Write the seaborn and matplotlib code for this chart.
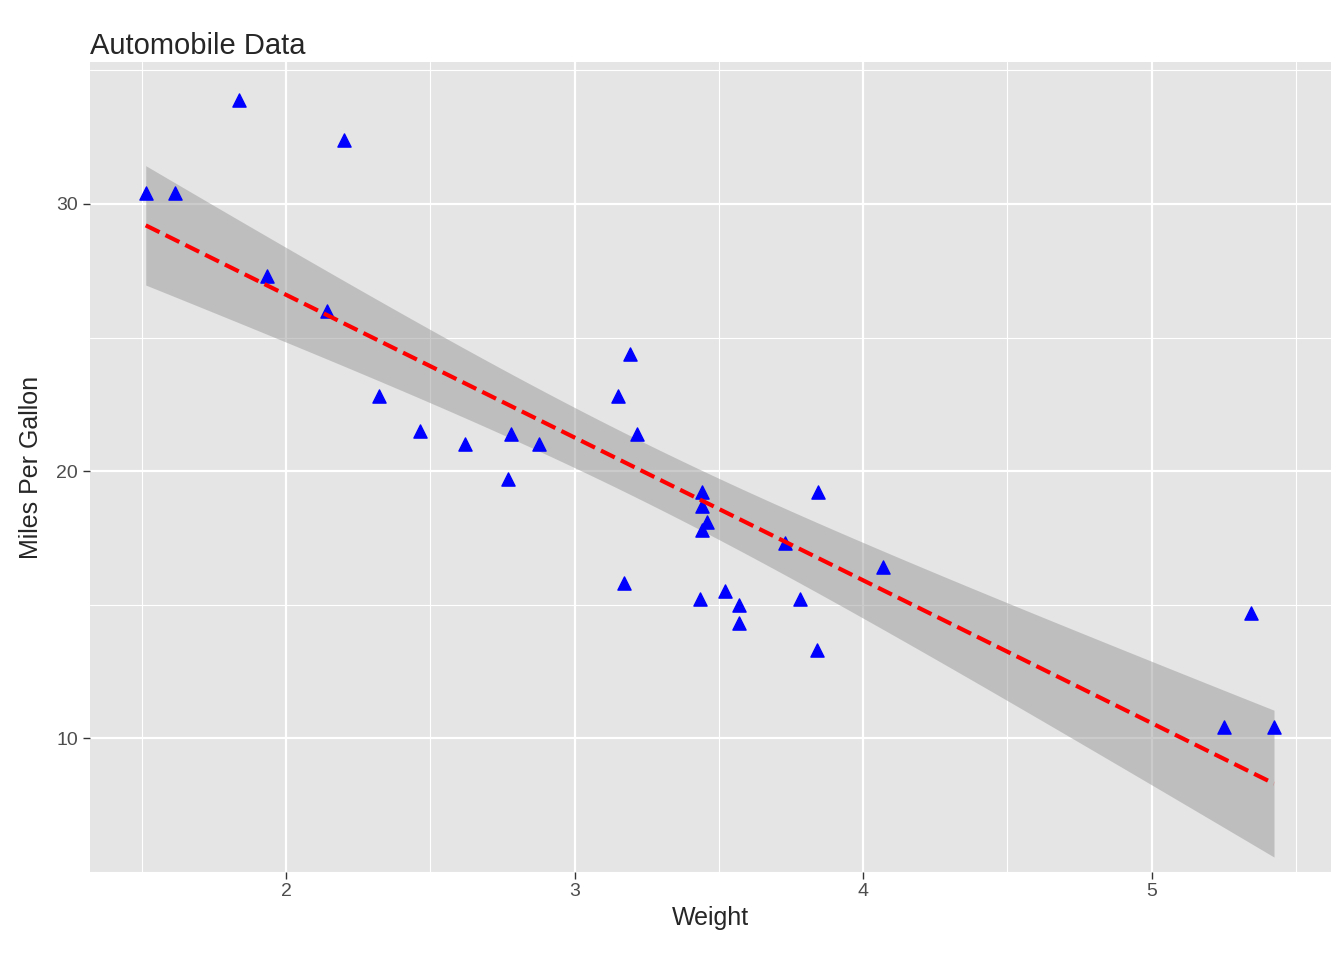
import numpy as np

import matplotlib as mpl
import matplotlib.pyplot as plt
import seaborn as sns

from typing import List


def preprocessing(data_list: dict) -> List[float]:
  weight_list = []
  mpg_list = []
  for wt, mpg in zip(data_list['wt'], data_list['mpg']):
    weight_list.append(wt)
    mpg_list.append(mpg)
  return weight_list, mpg_list

if __name__ == "__main__":
  json_data = {
    'wt': [2.620, 2.875, 2.320, 3.215, 3.440, 3.460, 3.570, 3.190, 3.150, 3.440, 3.440,
           4.070, 3.730, 3.780, 5.250, 5.424, 5.345, 2.200, 1.615, 1.835, 2.465, 3.520,
           3.435, 3.840, 3.845, 1.935, 2.140, 1.513, 3.170, 2.770, 3.570, 2.780],
    'mpg': [21.0, 21.0, 22.8, 21.4, 18.7, 18.1, 14.3, 24.4, 22.8, 19.2, 17.8,
            16.4, 17.3, 15.2, 10.4, 10.4, 14.7, 32.4, 30.4, 33.9, 21.5, 15.5,
            15.2, 13.3, 19.2, 27.3, 26.0, 30.4, 15.8, 19.7, 15.0, 21.4],
  }
  weight_list, mpg_list = preprocessing(json_data)
  x = np.array(weight_list)
  y = np.array(mpg_list)

  sns.set_style("darkgrid", {"axes.facecolor": "#E5E5E5", "grid.color": "white"})
  plt.rcParams['font.family'] = ['Liberation Sans', 'DejaVu Sans']

  fig = plt.figure(figsize=(13.44, 9.6), dpi=100)
  ax = sns.regplot(x=x, y=y, marker="^", ci=None,
                   scatter_kws={"color": "blue", "s": 90, "alpha": 1, "zorder": 3},
                   line_kws={"color": "red", "linestyle": "--", "linewidth": 3, "zorder": 4})

  # 95% confidence band of the linear fit (t-based, as in ggplot)
  b, a = np.polyfit(x, y, 1)
  n = len(x)
  resid = y - (a + b * x)
  s = np.sqrt(np.sum(resid ** 2) / (n - 2))
  grid = np.linspace(x.min(), x.max(), 100)
  se = s * np.sqrt(1 / n + (grid - x.mean()) ** 2 / np.sum((x - x.mean()) ** 2))
  fit = a + b * grid
  ax.fill_between(grid, fit - 2.042 * se, fit + 2.042 * se, color="#999999", alpha=0.5,
                  linewidth=0, zorder=2)

  ax.set_xlim(1.32, 5.62)
  ax.set_ylim(5.2, 35.3)
  ax.set_xticks([2, 3, 4, 5])
  ax.set_yticks([10, 20, 30])
  ax.set_xticks([1.5, 2.5, 3.5, 4.5, 5.5], minor=True)
  ax.set_yticks([5, 15, 25, 35], minor=True)
  ax.grid(which="major", color="white", linewidth=1.6)
  ax.grid(which="minor", color="white", linewidth=0.8)
  ax.tick_params(which="minor", length=0)
  ax.tick_params(which="major", length=5, width=1, color="#333333", labelsize=14,
                 labelcolor="#4D4D4D", bottom=True, left=True)
  for sp in ax.spines.values():
    sp.set_visible(False)

  plt.title("Automobile Data", loc="left", fontsize=21)
  plt.xlabel("Weight", fontsize=18)
  plt.ylabel("Miles Per Gallon", fontsize=18, labelpad=10)
  plt.subplots_adjust(left=0.067, right=0.99, top=0.935, bottom=0.092)

  plt.savefig("out.png")
